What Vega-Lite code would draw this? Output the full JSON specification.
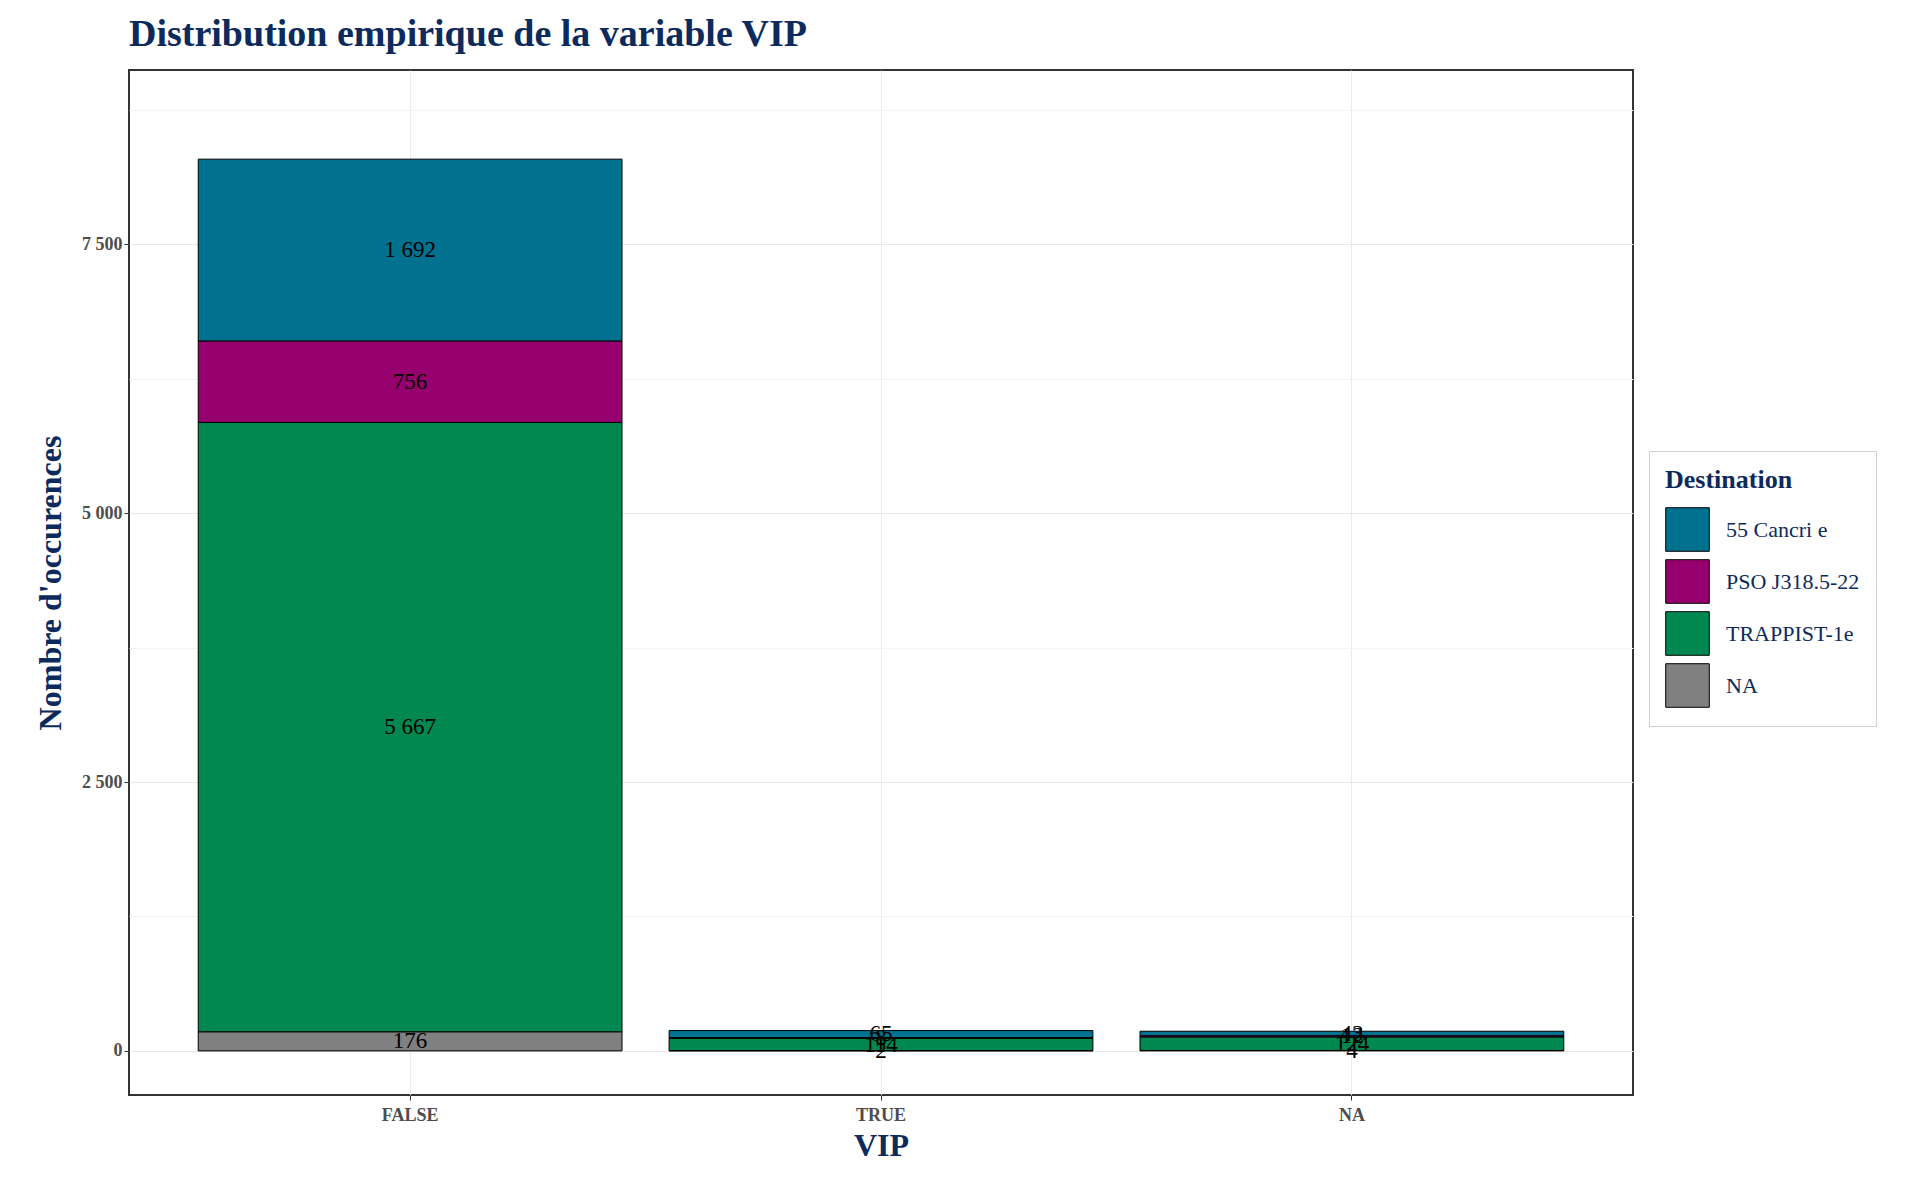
{
  "$schema": "https://vega.github.io/schema/vega-lite/v6.json",
  "width": 1504,
  "height": 1025,
  "padding": {"left": 34, "top": 16, "right": 5, "bottom": 5},
  "background": "white",
  "title": {"text": "Distribution empirique de la variable VIP", "anchor": "start", "frame": "group", "font": "Liberation Serif", "fontSize": 38, "fontWeight": "bold", "color": "#0d2a5c", "offset": 16},
  "data": {"values": [
    {"VIP": "FALSE", "Destination": "55 Cancri e", "n": 1692, "o": 4},
    {"VIP": "FALSE", "Destination": "PSO J318.5-22", "n": 756, "o": 3},
    {"VIP": "FALSE", "Destination": "TRAPPIST-1e", "n": 5667, "o": 2},
    {"VIP": "FALSE", "Destination": "NA", "n": 176, "o": 1},
    {"VIP": "TRUE", "Destination": "55 Cancri e", "n": 65, "o": 4},
    {"VIP": "TRUE", "Destination": "PSO J318.5-22", "n": 8, "o": 3},
    {"VIP": "TRUE", "Destination": "TRAPPIST-1e", "n": 114, "o": 2},
    {"VIP": "TRUE", "Destination": "NA", "n": 2, "o": 1},
    {"VIP": "NA", "Destination": "55 Cancri e", "n": 43, "o": 4},
    {"VIP": "NA", "Destination": "PSO J318.5-22", "n": 12, "o": 3},
    {"VIP": "NA", "Destination": "TRAPPIST-1e", "n": 124, "o": 2},
    {"VIP": "NA", "Destination": "NA", "n": 4, "o": 1}
  ]},
  "transform": [
    {"stack": "n", "groupby": ["VIP"], "sort": [{"field": "o", "order": "ascending"}], "as": ["y0", "y1"]},
    {"calculate": "(datum.y0 + datum.y1) / 2", "as": "ym"}
  ],
  "encoding": {
    "x": {"field": "VIP", "type": "nominal", "sort": ["FALSE", "TRUE", "NA"],
      "scale": {"paddingInner": 0.1, "paddingOuter": 0.147},
      "axis": {"title": "VIP", "labelAngle": 0, "grid": true, "gridColor": "#ebebeb", "domain": false, "tickColor": "#333", "tickSize": 5, "labelPadding": 6, "titlePadding": 6}}
  },
  "layer": [
    {
      "mark": {"type": "bar", "stroke": "black", "strokeWidth": 1},
      "encoding": {
        "y": {"field": "y0", "type": "quantitative",
          "scale": {"domain": [-410, 9120], "nice": false, "zero": false},
          "axis": {"title": "Nombre d'occurences", "values": [0, 1250, 2500, 3750, 5000, 6250, 7500, 8750],
            "labelExpr": "datum.value % 2500 === 0 ? datum.label : ''",
            "gridColor": {"condition": {"test": "datum.value % 2500 === 0", "value": "#e8e8e8"}, "value": "#f3f3f3"},
            "tickColor": {"condition": {"test": "datum.value % 2500 === 0", "value": "#333"}, "value": "transparent"},
            "domain": false, "tickSize": 5, "format": ",d", "titlePadding": 14}},
        "y2": {"field": "y1"},
        "color": {"field": "Destination", "type": "nominal",
          "sort": ["55 Cancri e", "PSO J318.5-22", "TRAPPIST-1e", "NA"],
          "scale": {"domain": ["55 Cancri e", "PSO J318.5-22", "TRAPPIST-1e", "NA"], "range": ["#00718f", "#96006e", "#008850", "#808080"]},
          "legend": {"title": "Destination", "orient": "none", "legendX": 1520, "legendY": 381, "symbolType": "square", "symbolSize": 1900, "symbolStrokeColor": "black", "symbolStrokeWidth": 1, "symbolOpacity": 1, "rowPadding": 3, "strokeColor": "#d0d0d0", "padding": 16}}
      }
    },
    {
      "mark": {"type": "text", "font": "Liberation Serif", "fontSize": 23, "color": "black", "baseline": "middle"},
      "encoding": {
        "y": {"field": "ym", "type": "quantitative"},
        "text": {"field": "n", "type": "quantitative", "format": ",d"}
      }
    }
  ],
  "config": {
    "locale": {"number": {"decimal": ",", "thousands": "\u00a0", "grouping": [3], "currency": ["", " €"]}},
    "view": {"stroke": "#333", "strokeWidth": 2},
    "axis": {"labelFont": "Liberation Serif", "labelFontSize": 18, "labelFontWeight": "bold", "labelColor": "#4d4d4d",
      "titleFont": "Liberation Serif", "titleFontSize": 32, "titleFontWeight": "bold", "titleColor": "#0d2a5c"},
    "legend": {"titleFont": "Liberation Serif", "titleFontSize": 26, "titleFontWeight": "bold", "titleColor": "#0d2a5c", "titlePadding": 14,
      "labelFont": "Liberation Serif", "labelFontSize": 22, "labelColor": "#0d2a5c", "labelOffset": 16}
  }
}
